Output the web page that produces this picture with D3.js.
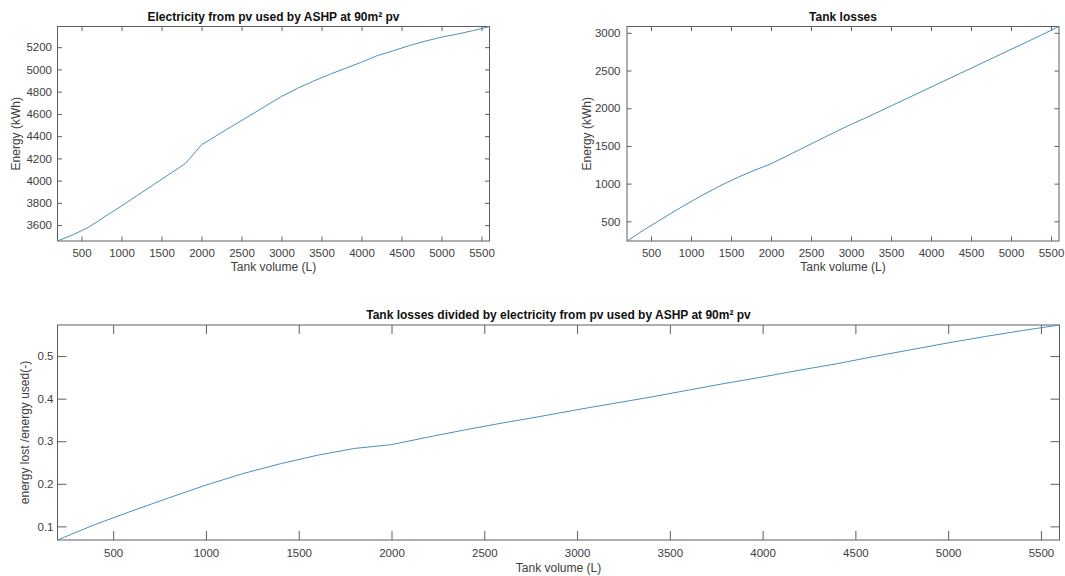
<!DOCTYPE html>
<html>
<head>
<meta charset="utf-8">
<script src="https://cdn.jsdelivr.net/npm/d3@7"></script>
<style>
  html, body { margin: 0; padding: 0; background: #fff; }
  svg { display: block; font-family: "Liberation Sans", Arial, sans-serif; }
</style>
</head>
<body>
<svg id="chart" width="1065" height="576"></svg>
<script>
// ---- data ----
const tankVolume = [200, 400, 600, 800, 1000, 1200, 1400, 1600, 1800, 2000, 2200, 2400, 2600, 2800,
                    3000, 3200, 3400, 3600, 3800, 4000, 4200, 4400, 4600, 4800, 5000, 5200, 5400, 5600];
const pvElectricityUsed = [3457, 3515, 3585, 3680, 3772, 3868, 3963, 4058, 4155, 4322, 4410, 4497, 4583, 4670,
                           4757, 4830, 4895, 4955, 5010, 5065, 5125, 5168, 5215, 5255, 5290, 5318, 5350, 5386];
const tankLosses = [239, 378, 508, 638, 762, 880, 990, 1090, 1180, 1263, 1368, 1473, 1578, 1683,
                    1785, 1880, 1980, 2080, 2180, 2280, 2380, 2480, 2580, 2680, 2780, 2880, 2982, 3084];
const lossRatio = [0.068, 0.104, 0.136, 0.167, 0.197, 0.224, 0.247, 0.267, 0.283, 0.292, 0.310, 0.327, 0.343, 0.358,
                   0.374, 0.389, 0.404, 0.420, 0.436, 0.451, 0.467, 0.482, 0.499, 0.515, 0.531, 0.546, 0.560, 0.573];

const xTickValues = [500, 1000, 1500, 2000, 2500, 3000, 3500, 4000, 4500, 5000, 5500];
const elecTickValues = [3600, 3800, 4000, 4200, 4400, 4600, 4800, 5000, 5200];
const lossTickValues = [500, 1000, 1500, 2000, 2500, 3000];
const ratioTickValues = [0.1, 0.2, 0.3, 0.4, 0.5];

const titles = [
  "Electricity from pv used by ASHP at 90m\u00B2 pv",
  "Tank losses",
  "Tank losses divided by electricity from pv used by ASHP at 90m\u00B2 pv"
];
const xLabel = "Tank volume (L)";
const yLabels = ["Energy (kWh)", "Energy (kWh)", "energy lost /energy used(-)"];

// ---- drawing ----
const svg = d3.select("#chart");
const axisColor = "#5e5e5e";
const textColor = "#404040";
const lineColor = "#4a90bf";

function panel(cfg) {
  const { left, right, top, bottom, yValues, yTicks, title, yLabel, tick, xPad, yPad, yFmt, yLabelX } = cfg;
  const x = d3.scaleLinear().domain([tankVolume[0], tankVolume[tankVolume.length - 1]]).range([left, right]);
  const y = d3.scaleLinear().domain(d3.extent(yValues)).range([bottom, top]);
  const g = svg.append("g");

  g.append("rect")
    .attr("x", left).attr("y", top)
    .attr("width", right - left).attr("height", bottom - top)
    .attr("fill", "none").attr("stroke", axisColor).attr("stroke-width", 1);

  const styleAxis = sel => {
    sel.select(".domain").remove();
    sel.selectAll(".tick line").attr("stroke", axisColor);
    sel.selectAll(".tick text").attr("fill", textColor).style("font-size", "11.5px")
      .style("font-family", "'Liberation Sans', Arial, sans-serif");
  };

  g.append("g").attr("transform", `translate(0,${bottom})`)
    .call(d3.axisBottom(x).tickValues(xTickValues).tickSizeInner(-tick).tickSizeOuter(0).tickPadding(xPad).tickFormat(d3.format("d")))
    .call(styleAxis);
  g.append("g").attr("transform", `translate(0,${top})`)
    .call(d3.axisTop(x).tickValues(xTickValues).tickSizeInner(-tick).tickSizeOuter(0).tickFormat(""))
    .call(styleAxis);
  g.append("g").attr("transform", `translate(${left},0)`)
    .call(d3.axisLeft(y).tickValues(yTicks).tickSizeInner(-tick).tickSizeOuter(0).tickPadding(yPad).tickFormat(yFmt))
    .call(styleAxis);
  g.append("g").attr("transform", `translate(${right},0)`)
    .call(d3.axisRight(y).tickValues(yTicks).tickSizeInner(-tick).tickSizeOuter(0).tickFormat(""))
    .call(styleAxis);

  const line = d3.line().x((d, i) => x(tankVolume[i])).y(d => y(d));
  g.append("path").datum(yValues)
    .attr("d", line).attr("fill", "none")
    .attr("stroke", lineColor).attr("stroke-width", 1);

  g.append("text").attr("x", (left + right) / 2).attr("y", top - 6)
    .attr("text-anchor", "middle").attr("fill", "#111")
    .style("font-size", "12px").style("font-weight", "bold").text(title);

  g.append("text").attr("x", (left + right) / 2).attr("y", bottom + cfg.xLabelDy)
    .attr("text-anchor", "middle").attr("fill", textColor)
    .style("font-size", "12px").text(xLabel);

  g.append("text")
    .attr("transform", `translate(${yLabelX},${(top + bottom) / 2}) rotate(-90)`)
    .attr("text-anchor", "middle").attr("fill", textColor)
    .style("font-size", "12px").text(yLabel);
}

panel({ left: 57.5, right: 489.5, top: 26.5, bottom: 241, yValues: pvElectricityUsed, yTicks: elecTickValues,
        title: titles[0], yLabel: yLabels[0], tick: 4.5, xPad: 7.5, yPad: 5.5, yFmt: d3.format("d"),
        xLabelDy: 30, yLabelX: 20 });
panel({ left: 627, right: 1059, top: 26.5, bottom: 241, yValues: tankLosses, yTicks: lossTickValues,
        title: titles[1], yLabel: yLabels[1], tick: 4.5, xPad: 7.5, yPad: 6.5, yFmt: d3.format("d"),
        xLabelDy: 30, yLabelX: 591 });
panel({ left: 57.5, right: 1059.5, top: 325, bottom: 540, yValues: lossRatio, yTicks: ratioTickValues,
        title: titles[2], yLabel: yLabels[2], tick: 9, xPad: 9, yPad: 4, yFmt: d3.format(".1f"),
        xLabelDy: 32, yLabelX: 29 });
</script>
</body>
</html>
